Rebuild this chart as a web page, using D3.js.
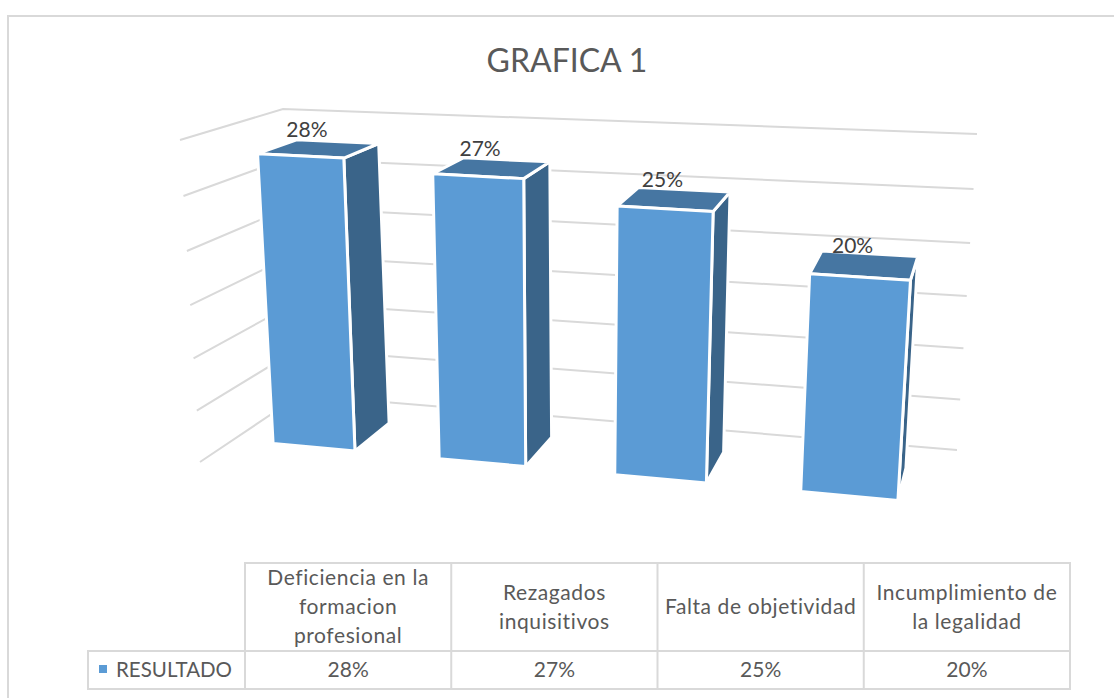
<!DOCTYPE html>
<html>
<head>
  <title>GRAFICA 1</title>
  <script src="https://d3js.org/d3.v7.min.js"></script>
  <style>
    html, body { margin: 0; padding: 0; background: #fff; }
    svg { display: block; }
    text { font-family: Lato, "Open Sans", sans-serif; }
  </style>
</head>
<body>

<div id="chart"></div>

<script>
// Data
const title = "GRAFICA 1";
const seriesName = "RESULTADO";
const categories = [
  "Deficiencia en la formacion profesional",
  "Rezagados inquisitivos",
  "Falta de objetividad",
  "Incumplimiento de la legalidad"
];
const categoryLines = [
  ["Deficiencia en la", "formacion", "profesional"],
  ["Rezagados", "inquisitivos"],
  ["Falta de objetividad"],
  ["Incumplimiento de", "la legalidad"]
];
const values = [28, 27, 25, 20];
const yTicks = [0, 5, 10, 15, 20, 25, 30];

const width = 1114;
const height = 698;

const svg = d3.select("#chart")
  .append("svg")
  .attr("width", width)
  .attr("height", height);

const line = d3.line();
const closedLine = d3.line().curve(d3.curveLinearClosed);

// outer chart frame: only the top and left edges are inside the picture
svg.append("path")
  .attr("d", line([[8, height], [8, 16], [width, 16]]))
  .attr("fill", "none")
  .attr("stroke", "#d9d9d9")
  .attr("stroke-width", 2);

svg.append("text")
  .attr("x", 567).attr("y", 72)
  .attr("text-anchor", "middle")
  .attr("font-size", 32)
  .attr("fill", "#595959")
  .text(title);

// --- fake 3D: plot box is a cube u (category), v (value), w (depth, 0 = front) ---
const xScale = d3.scaleBand().domain(categories).range([0, 1]).paddingInner(0.5).paddingOuter(0.25);
const yScale = d3.scaleLinear().domain([0, 30]).range([0, 1]);
const depthFront = 0.33, depthBack = 0.73;

// perspective foreshortening along x and y
const warp = (t, a) => a * t / (1 - (1 - a) * t);
const warpX = 0.892, warpY = 0.95;

// cube corners on screen [x, y]
const corners = {
  bottomFrontLeft: [200, 462], bottomFrontRight: [943, 532],
  bottomBackLeft: [300, 395], bottomBackRight: [957, 450],
  topFrontLeft: [180, 140], topFrontRight: [966, 183],
  topBackLeft: [283, 109], topBackRight: [977, 134]
};

const mix = (a, b, t) => [a[0] + (b[0] - a[0]) * t, a[1] + (b[1] - a[1]) * t];

function project(u, v, w) {
  const tu = warp(u, warpX), tv = warp(v, warpY);
  const bottom = mix(
    mix(corners.bottomFrontLeft, corners.bottomFrontRight, tu),
    mix(corners.bottomBackLeft, corners.bottomBackRight, tu), w);
  const top = mix(
    mix(corners.topFrontLeft, corners.topFrontRight, tu),
    mix(corners.topBackLeft, corners.topBackRight, tu), w);
  return mix(bottom, top, tv);
}

// gridlines: left wall then back wall
svg.append("g")
  .selectAll("path")
  .data(yTicks)
  .join("path")
  .attr("d", d => line([
    project(0, yScale(d), 0),
    project(0, yScale(d), 1),
    project(1, yScale(d), 1)
  ]))
  .attr("fill", "none")
  .attr("stroke", "#d9d9d9")
  .attr("stroke-width", 2);

// bars
const bars = svg.append("g")
  .selectAll("g")
  .data(categories.map((c, i) => ({ cat: c, value: values[i] })))
  .join("g");

function face(d, kind) {
  const u0 = xScale(d.cat), u1 = u0 + xScale.bandwidth(), v = yScale(d.value);
  if (kind === "front") return [[u0, 0, depthFront], [u1, 0, depthFront], [u1, v, depthFront], [u0, v, depthFront]];
  if (kind === "side") return [[u1, 0, depthFront], [u1, 0, depthBack], [u1, v, depthBack], [u1, v, depthFront]];
  return [[u0, v, depthFront], [u1, v, depthFront], [u1, v, depthBack], [u0, v, depthBack]];
}

const faces = [
  { kind: "side", fill: "#3a6489" },
  { kind: "top", fill: "#4676a2" },
  { kind: "front", fill: "#5b9bd5" }
];

faces.forEach(f => {
  bars.append("path")
    .attr("d", d => closedLine(face(d, f.kind).map(p => project(...p))))
    .attr("fill", f.fill)
    .attr("stroke", "#fff")
    .attr("stroke-width", 3)
    .attr("stroke-linejoin", "round");
});

// data labels
bars.append("text")
  .attr("transform", d => {
    const p = project(xScale(d.cat) + xScale.bandwidth() / 2, yScale(d.value), (depthFront + depthBack) / 2);
    return `translate(${p[0] - 12},${p[1] - 12})`;
  })
  .attr("text-anchor", "middle")
  .attr("font-size", 21)
  .attr("fill", "#404040")
  .text(d => d.value + "%");

// --- data table under the chart ---
const tableX = d3.scaleBand().domain(categories).range([245, 1070]);
const rowTop = 563, rowMid = 651, rowBottom = 689, tableLeft = 88;
const gridColor = "#d9d9d9";

const table = svg.append("g");

const tableLines = [
  [[245, rowTop], [1070, rowTop]],
  [[tableLeft, rowMid], [1070, rowMid]],
  [[tableLeft, rowBottom], [1070, rowBottom]],
  [[tableLeft, rowMid], [tableLeft, rowBottom]],
  [[245, rowTop], [245, rowBottom]]
].concat(categories.map(c => {
  const x = tableX(c) + tableX.bandwidth();
  return [[x, rowTop], [x, rowBottom]];
}));

table.selectAll("path")
  .data(tableLines)
  .join("path")
  .attr("d", d => line(d))
  .attr("fill", "none")
  .attr("stroke", gridColor)
  .attr("stroke-width", 2)
  .attr("stroke-linecap", "square");

const lineHeight = 29;
table.selectAll("text.head")
  .data(categories)
  .join("text")
  .attr("class", "head")
  .attr("text-anchor", "middle")
  .attr("font-size", 21)
  .attr("letter-spacing", 0.6)
  .attr("fill", "#595959")
  .attr("transform", d => `translate(${tableX(d) + tableX.bandwidth() / 2},${(rowTop + rowMid) / 2})`)
  .each(function (d, i) {
    const rows = categoryLines[i];
    d3.select(this).selectAll("tspan")
      .data(rows)
      .join("tspan")
      .attr("x", 0)
      .attr("y", (r, j) => (j - (rows.length - 1) / 2) * lineHeight + 7)
      .text(r => r);
  });

table.selectAll("text.val")
  .data(values)
  .join("text")
  .attr("class", "val")
  .attr("text-anchor", "middle")
  .attr("font-size", 21)
  .attr("fill", "#595959")
  .attr("x", (d, i) => tableX(categories[i]) + tableX.bandwidth() / 2)
  .attr("y", 677)
  .text(d => d + "%");

table.append("rect")
  .attr("x", 99).attr("y", 665)
  .attr("width", 8).attr("height", 8)
  .attr("fill", "#5b9bd5");

table.append("text")
  .attr("x", 116).attr("y", 677)
  .attr("font-size", 20.5)
  .attr("fill", "#595959")
  .text(seriesName);
</script>

</body>
</html>
